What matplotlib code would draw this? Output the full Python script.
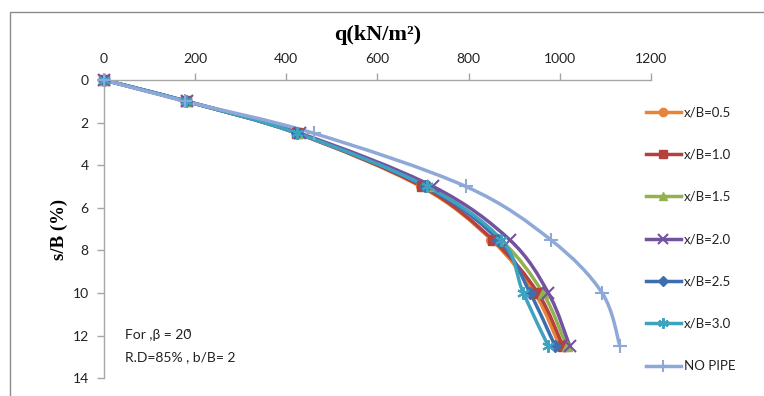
import matplotlib
matplotlib.use("Agg")
import matplotlib.pyplot as plt
import numpy as np
from matplotlib.path import Path
from matplotlib.patches import PathPatch, Rectangle
from matplotlib.lines import Line2D

# ---- data ----
sB = [0, 1, 2.5, 5, 7.5, 10, 12.5]
q_xb05 = [0, 180, 423, 695, 850, 945, 1000]
q_xb10 = [0, 180, 423, 698, 853, 952, 1007]
q_xb15 = [0, 181, 425, 710, 870, 963, 1015]
q_xb20 = [0, 182, 430, 722, 890, 975, 1022]
q_xb25 = [0, 181, 424, 705, 865, 935, 990]
q_xb30 = [0, 181, 424, 708, 872, 920, 975]
q_nopipe = [0, 178, 460, 794, 980, 1093, 1132]

labels = ["x/B=0.5", "x/B=1.0", "x/B=1.5", "x/B=2.0", "x/B=2.5", "x/B=3.0", "NO PIPE"]
series = [q_xb05, q_xb10, q_xb15, q_xb20, q_xb25, q_xb30, q_nopipe]
colors = ["#E8843A", "#B5413E", "#93B150", "#7452A0", "#3E6EAE", "#3FA3C0", "#8EA9D8"]
markers = ["o", "s", "^", "x", "D", (6, 2, 0), "+"]
msizes = [7, 7, 7, 8, 6, 9, 10]

x_ticks = [0, 200, 400, 600, 800, 1000, 1200]
y_ticks = [0, 2, 4, 6, 8, 10, 12, 14]

fig = plt.figure(figsize=(7.64, 3.96), dpi=100)
ax = fig.add_axes([0.136, 0.045, 0.716, 0.753])

def smooth_path(xs, ys):
    pts = np.column_stack([xs, ys]).astype(float)
    n = len(pts)
    verts = [pts[0]]
    codes = [Path.MOVETO]
    for i in range(n - 1):
        p0 = pts[i - 1] if i > 0 else pts[i]
        p1 = pts[i]
        p2 = pts[i + 1]
        p3 = pts[i + 2] if i + 2 < n else pts[i + 1]
        c1 = p1 + (p2 - p0) / 6.0
        c2 = p2 - (p3 - p1) / 6.0
        verts += [c1, c2, p2]
        codes += [Path.CURVE4] * 3
    return Path(verts, codes)

def mew_for(m):
    return 1.5 if m in ("x", "+") or isinstance(m, tuple) else 1

handles = []
order = [6, 0, 1, 2, 3, 4, 5]
for i in order:
    qs = series[i]
    patch = PathPatch(smooth_path(qs, sB), facecolor="none", edgecolor=colors[i],
                      lw=2.5, zorder=2 + i * 0.1, capstyle="round", joinstyle="round")
    ax.add_patch(patch)
for i in order:
    qs = series[i]
    ax.plot(qs, sB, linestyle="none", marker=markers[i], markersize=msizes[i],
            color=colors[i], mec=colors[i], mew=mew_for(markers[i]),
            zorder=3 + i * 0.1, clip_on=False)

for i in range(7):
    handles.append(Line2D([], [], color=colors[i], lw=2.5, marker=markers[i],
                          markersize=msizes[i] * 0.85, mew=mew_for(markers[i]),
                          label=labels[i]))

ax.set_xlim(0, 1200)
ax.set_ylim(14, 0)
ax.set_xticks(x_ticks)
ax.set_yticks(y_ticks)
ax.xaxis.tick_top()
ax.xaxis.set_label_position("top")
for s in ["right", "bottom"]:
    ax.spines[s].set_visible(False)
for s in ["top", "left"]:
    ax.spines[s].set_color("#A6A6A6")
    ax.spines[s].set_linewidth(1.0)
ax.tick_params(axis="both", direction="out", length=5, color="#A6A6A6",
               labelsize=10, labelcolor="#222222", width=1.0)
for lab in ax.get_xticklabels() + ax.get_yticklabels():
    lab.set_family(["Lato", "DejaVu Sans"])
ax.tick_params(axis="x", pad=6)
ax.tick_params(axis="y", pad=6)

ax.set_xlabel("q(kN/m\u00b2)", family="Liberation Serif", fontweight="bold",
              fontsize=16, labelpad=9)
ax.set_ylabel("s/B (%)", family="Liberation Serif", fontweight="bold", fontsize=13.5,
              labelpad=3)

ax.text(0.038, 0.144, "For ,\u03b2 = 20\u030a", transform=ax.transAxes,
        family=["Lato", "DejaVu Sans"], fontsize=10, color="#222222", va="center")
ax.text(0.038, 0.07, "R.D=85% , b/B= 2", transform=ax.transAxes,
        family=["Lato", "DejaVu Sans"], fontsize=10, color="#222222", va="center")

leg = fig.legend(handles=handles, loc="upper left", bbox_to_anchor=(0.838, 0.745),
                 frameon=False, prop={"family": ["Lato", "DejaVu Sans"], "size": 9.5},
                 labelspacing=2.3, handlelength=2.7, handletextpad=0.2,
                 borderaxespad=0)
for t in leg.get_texts():
    t.set_color("#222222")

fig.patches.append(Rectangle((0.013, -0.01), 0.99, 0.98, transform=fig.transFigure,
                             fill=False, edgecolor="#8C8C8C", lw=1.0))

fig.savefig("out.png", dpi=100)
